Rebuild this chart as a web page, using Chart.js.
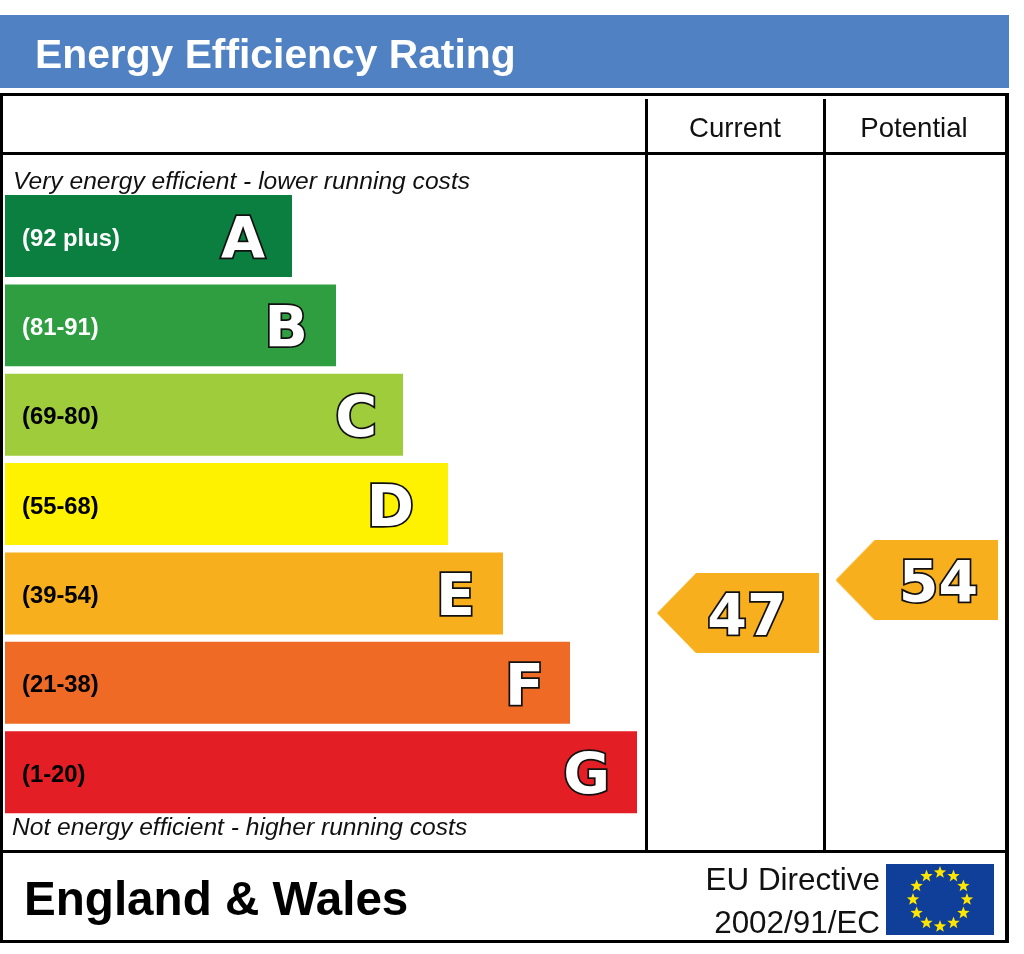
<!DOCTYPE html>
<html>
<head>
<meta charset="utf-8">
<title>Energy Efficiency Rating</title>
<script src="https://cdn.jsdelivr.net/npm/chart.js@4"></script>
<style>
html,body{margin:0;padding:0;background:#fff;overflow:hidden}
#wrap{position:relative;width:1024px;height:954px}
canvas{display:block}
</style>
</head>
<body>
<div id="wrap"><canvas id="c" width="1024" height="954"></canvas></div>
<script>
const bandLabels = ['(92 plus)','(81-91)','(69-80)','(55-68)','(39-54)','(21-38)','(1-20)'];
const bandLetters = ['A','B','C','D','E','F','G'];
const bandLengths = [28.7,33.1,39.8,44.3,49.8,56.5,63.2];
const bandColors = ['#0A7F3F','#2E9E41','#9FCC3B','#FFF200','#F7AF1D','#EF6A25','#E31E25'];
const bandTextColors = ['#ffffff','#ffffff','#000000','#000000','#000000','#000000','#000000'];
const letterInsets = [27,28,26,34,28,26,27];
const columnNames = ['Current','Potential'];
const ratingValues = [47,54];
const arrowPositions = [73.3,91.15];
const valueShifts = [9,22];
const ratingColor = '#F7AF1D';

function makeArrow(){
  const cv = document.createElement('canvas');
  cv.width = 162; cv.height = 80;
  const g = cv.getContext('2d');
  g.fillStyle = ratingColor;
  g.beginPath();
  g.moveTo(0,40); g.lineTo(39,0); g.lineTo(162,0); g.lineTo(162,80); g.lineTo(39,80);
  g.closePath(); g.fill();
  return cv;
}
const arrow = makeArrow();

function star(ctx,x,y,r,rot){
  ctx.beginPath();
  for(let i=0;i<10;i++){
    const a = rot - Math.PI/2 + i*Math.PI/5;
    const q = i%2 ? r*0.42 : r;
    ctx.lineTo(x+q*Math.cos(a), y+q*Math.sin(a));
  }
  ctx.closePath(); ctx.fill();
}
function text(ctx,s,x,y,font,color,align){
  ctx.font = font; ctx.fillStyle = color; ctx.textAlign = align||'left';
  ctx.textBaseline = 'alphabetic'; ctx.fillText(s,x,y);
}
function outlined(ctx,s,x,y,align){
  ctx.font = 'bold 57px "DejaVu Sans"'; ctx.textAlign = align; ctx.textBaseline = 'alphabetic';
  ctx.lineJoin = 'miter'; ctx.miterLimit = 3;
  ctx.lineWidth = 3.5; ctx.strokeStyle = '#111'; ctx.strokeText(s,x,y);
  ctx.fillStyle = '#fff'; ctx.fillText(s,x,y);
}

const frame = {
  id:'frame',
  beforeDatasetsDraw(chart){
    const ctx = chart.ctx;
    ctx.save();
    ctx.fillStyle = '#4F81C3'; ctx.fillRect(0,15,1009,73);
    ctx.fillStyle = '#000';
    ctx.fillRect(0,93,1009,3);
    ctx.fillRect(0,93,3,850);
    ctx.fillRect(1005,93,4,850);
    ctx.fillRect(0,940,1009,3);
    ctx.fillRect(0,850,1005,3);
    ctx.fillRect(0,152,1005,3);
    ctx.fillRect(645,99,3,751);
    ctx.fillRect(823,99,3,751);
    ctx.restore();
  },
  afterDraw(chart){
    const ctx = chart.ctx;
    ctx.save();
    const sans = '"Liberation Sans"';
    text(ctx,'Energy Efficiency Rating',35,68,'bold 40.8px '+sans,'#fff');
    text(ctx,columnNames[0],735,137,'27.6px '+sans,'#111','center');
    text(ctx,columnNames[1],914,137,'27.6px '+sans,'#111','center');
    text(ctx,'Very energy efficient - lower running costs',13,189,'italic 24.6px '+sans,'#111');
    text(ctx,'Not energy efficient - higher running costs',12,835,'italic 24.6px '+sans,'#111');
    text(ctx,'England & Wales',24,915,'bold 47.6px '+sans,'#000');
    text(ctx,'EU Directive',880,890,'31.4px '+sans,'#111','right');
    text(ctx,'2002/91/EC',880,933,'31.4px '+sans,'#111','right');
    // EU flag
    ctx.fillStyle = '#0F3F98'; ctx.fillRect(886,864,108,71);
    ctx.fillStyle = '#FFE600';
    for(let i=0;i<12;i++){
      const a = i*Math.PI/6;
      star(ctx,940+27*Math.sin(a),899.5-27*Math.cos(a),6.5,0);
    }
    // band letters
    const bars = chart.getDatasetMeta(0).data;
    bars.forEach((b,i)=>outlined(ctx,bandLetters[i],b.x-letterInsets[i],b.y+22,'right'));
    // rating values
    const pts = chart.getDatasetMeta(1).data;
    pts.forEach((p,i)=>outlined(ctx,String(ratingValues[i]),p.x+valueShifts[i],p.y+22,'center'));
    ctx.restore();
  }
};

new Chart(document.getElementById('c'),{
  type:'bar',
  data:{
    labels:bandLabels,
    datasets:[
      {type:'bar',indexAxis:'y',label:'Band',data:bandLengths,backgroundColor:bandColors,
       xAxisID:'x',yAxisID:'y',categoryPercentage:1,barPercentage:0.917,borderWidth:0,order:2},
      {type:'scatter',label:'Rating',xAxisID:'x',yAxisID:'rating',
       data:ratingValues.map((v,i)=>({x:arrowPositions[i],y:v})),
       pointStyle:arrow,pointRadius:40,pointHoverRadius:40,showLine:false,order:1,clip:false}
    ]
  },
  options:{
    responsive:false,animation:false,devicePixelRatio:1,
    layout:{autoPadding:false,padding:{left:5,right:19,top:191.3,bottom:137.1}},
    plugins:{legend:{display:false},tooltip:{enabled:false},title:{display:false}},
    scales:{
      x:{type:'linear',position:'bottom',min:0,max:100,offset:false,display:false,grid:{display:false}},
      y:{type:'category',position:'left',labels:bandLabels,offset:true,
         afterFit:(s)=>{s.width=0;},
         grid:{display:false,drawTicks:false},border:{display:false},
         ticks:{mirror:true,padding:17,z:1,autoSkip:false,labelOffset:3,
                font:{family:'"Liberation Sans"',weight:'bold',size:23.8},
                color:(c)=>bandTextColors[c.index]}},
      rating:{type:'linear',position:'right',min:3.75,max:136.5,offset:false,display:false,grid:{display:false}}
    }
  },
  plugins:[frame]
});
</script>
</body>
</html>
